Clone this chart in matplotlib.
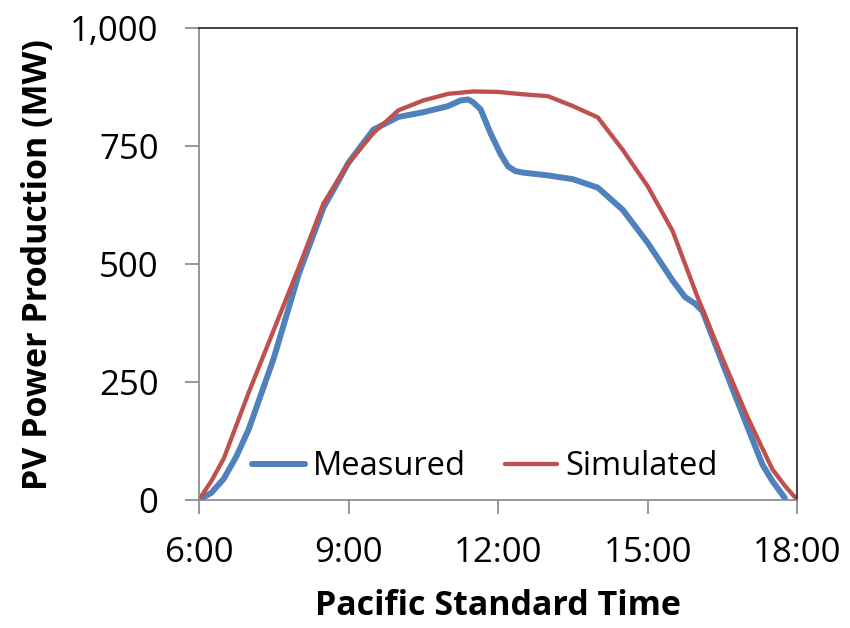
import matplotlib.pyplot as plt
from matplotlib.ticker import FuncFormatter

plt.rcParams['font.family'] = ['Open Sans', 'DejaVu Sans']

# hours (Pacific Standard Time) and PV output in MW
measured_t = [6.0, 6.25, 6.5, 6.75, 7.0, 7.5, 8.0, 8.5, 9.0, 9.5, 10.0, 10.5, 11.0,
              11.25, 11.4, 11.5, 11.65, 11.85, 12.05, 12.2, 12.35, 12.5, 13.0,
              13.5, 14.0, 14.5, 15.0, 15.5, 15.75, 15.95, 16.1, 16.5, 17.0,
              17.3, 17.5, 17.75]
measured_mw = [0, 15, 45, 92, 150, 300, 478, 620, 715, 785, 812, 822, 835,
               847, 849, 843, 828, 777, 733, 707, 697, 694, 688,
               680, 662, 615, 545, 465, 430, 416, 400, 290, 155,
               75, 40, 4]

simulated_t = [6.0, 6.25, 6.5, 7.0, 7.5, 8.0, 8.5, 9.0, 9.5, 10.0, 10.5, 11.0, 11.5,
               12.0, 12.5, 13.0, 13.5, 14.0, 14.5, 15.0, 15.5, 16.0, 16.5,
               17.0, 17.5, 17.75, 18.0]
simulated_mw = [0, 40, 88, 228, 360, 492, 629, 714, 778, 826, 847, 861, 866,
                865, 860, 856, 835, 811, 742, 665, 570, 430, 300,
                176, 65, 30, 0]

x_ticks = [6, 9, 12, 15, 18]
x_labels = ['6:00', '9:00', '12:00', '15:00', '18:00']
y_ticks = [0, 250, 500, 750, 1000]

fig = plt.figure(figsize=(8.5, 6.28), dpi=100)
ax = fig.add_axes([0.234, 0.204, 0.704, 0.751])

ax.plot(measured_t, measured_mw, color='#4F81BD', lw=4.3, label='Measured',
        solid_joinstyle='round', solid_capstyle='round')
ax.plot(simulated_t, simulated_mw, color='#C0504D', lw=3.1, label='Simulated',
        solid_joinstyle='round', solid_capstyle='round')

ax.set_xlim(6, 18)
ax.set_ylim(0, 1000)
ax.set_xticks(x_ticks)
ax.set_xticklabels(x_labels)
ax.set_yticks(y_ticks)
ax.yaxis.set_major_formatter(FuncFormatter(lambda v, p: f'{int(v):,}'))
ax.tick_params(axis='both', labelsize=25, direction='out', color='#868686',
               width=1.2, length=10)
ax.tick_params(axis='x', pad=16)
ax.tick_params(axis='y', pad=19)

for side in ['left', 'bottom']:
    ax.spines[side].set_color('#868686')
    ax.spines[side].set_linewidth(1.2)
for side in ['top', 'right']:
    ax.spines[side].set_color('#222222')
    ax.spines[side].set_linewidth(1.2)

ax.set_xlabel('Pacific Standard Time', fontsize=24.5, fontweight='bold', labelpad=14)
ax.set_ylabel('PV Power Production (MW)', fontsize=24.5, fontweight='bold', labelpad=11)

ax.legend(loc='center', ncol=2, frameon=False, fontsize=23.5,
          bbox_to_anchor=(0.478, 0.07), handlelength=1.6, columnspacing=1.2,
          handletextpad=0.25)

fig.savefig('out.png', dpi=100)
